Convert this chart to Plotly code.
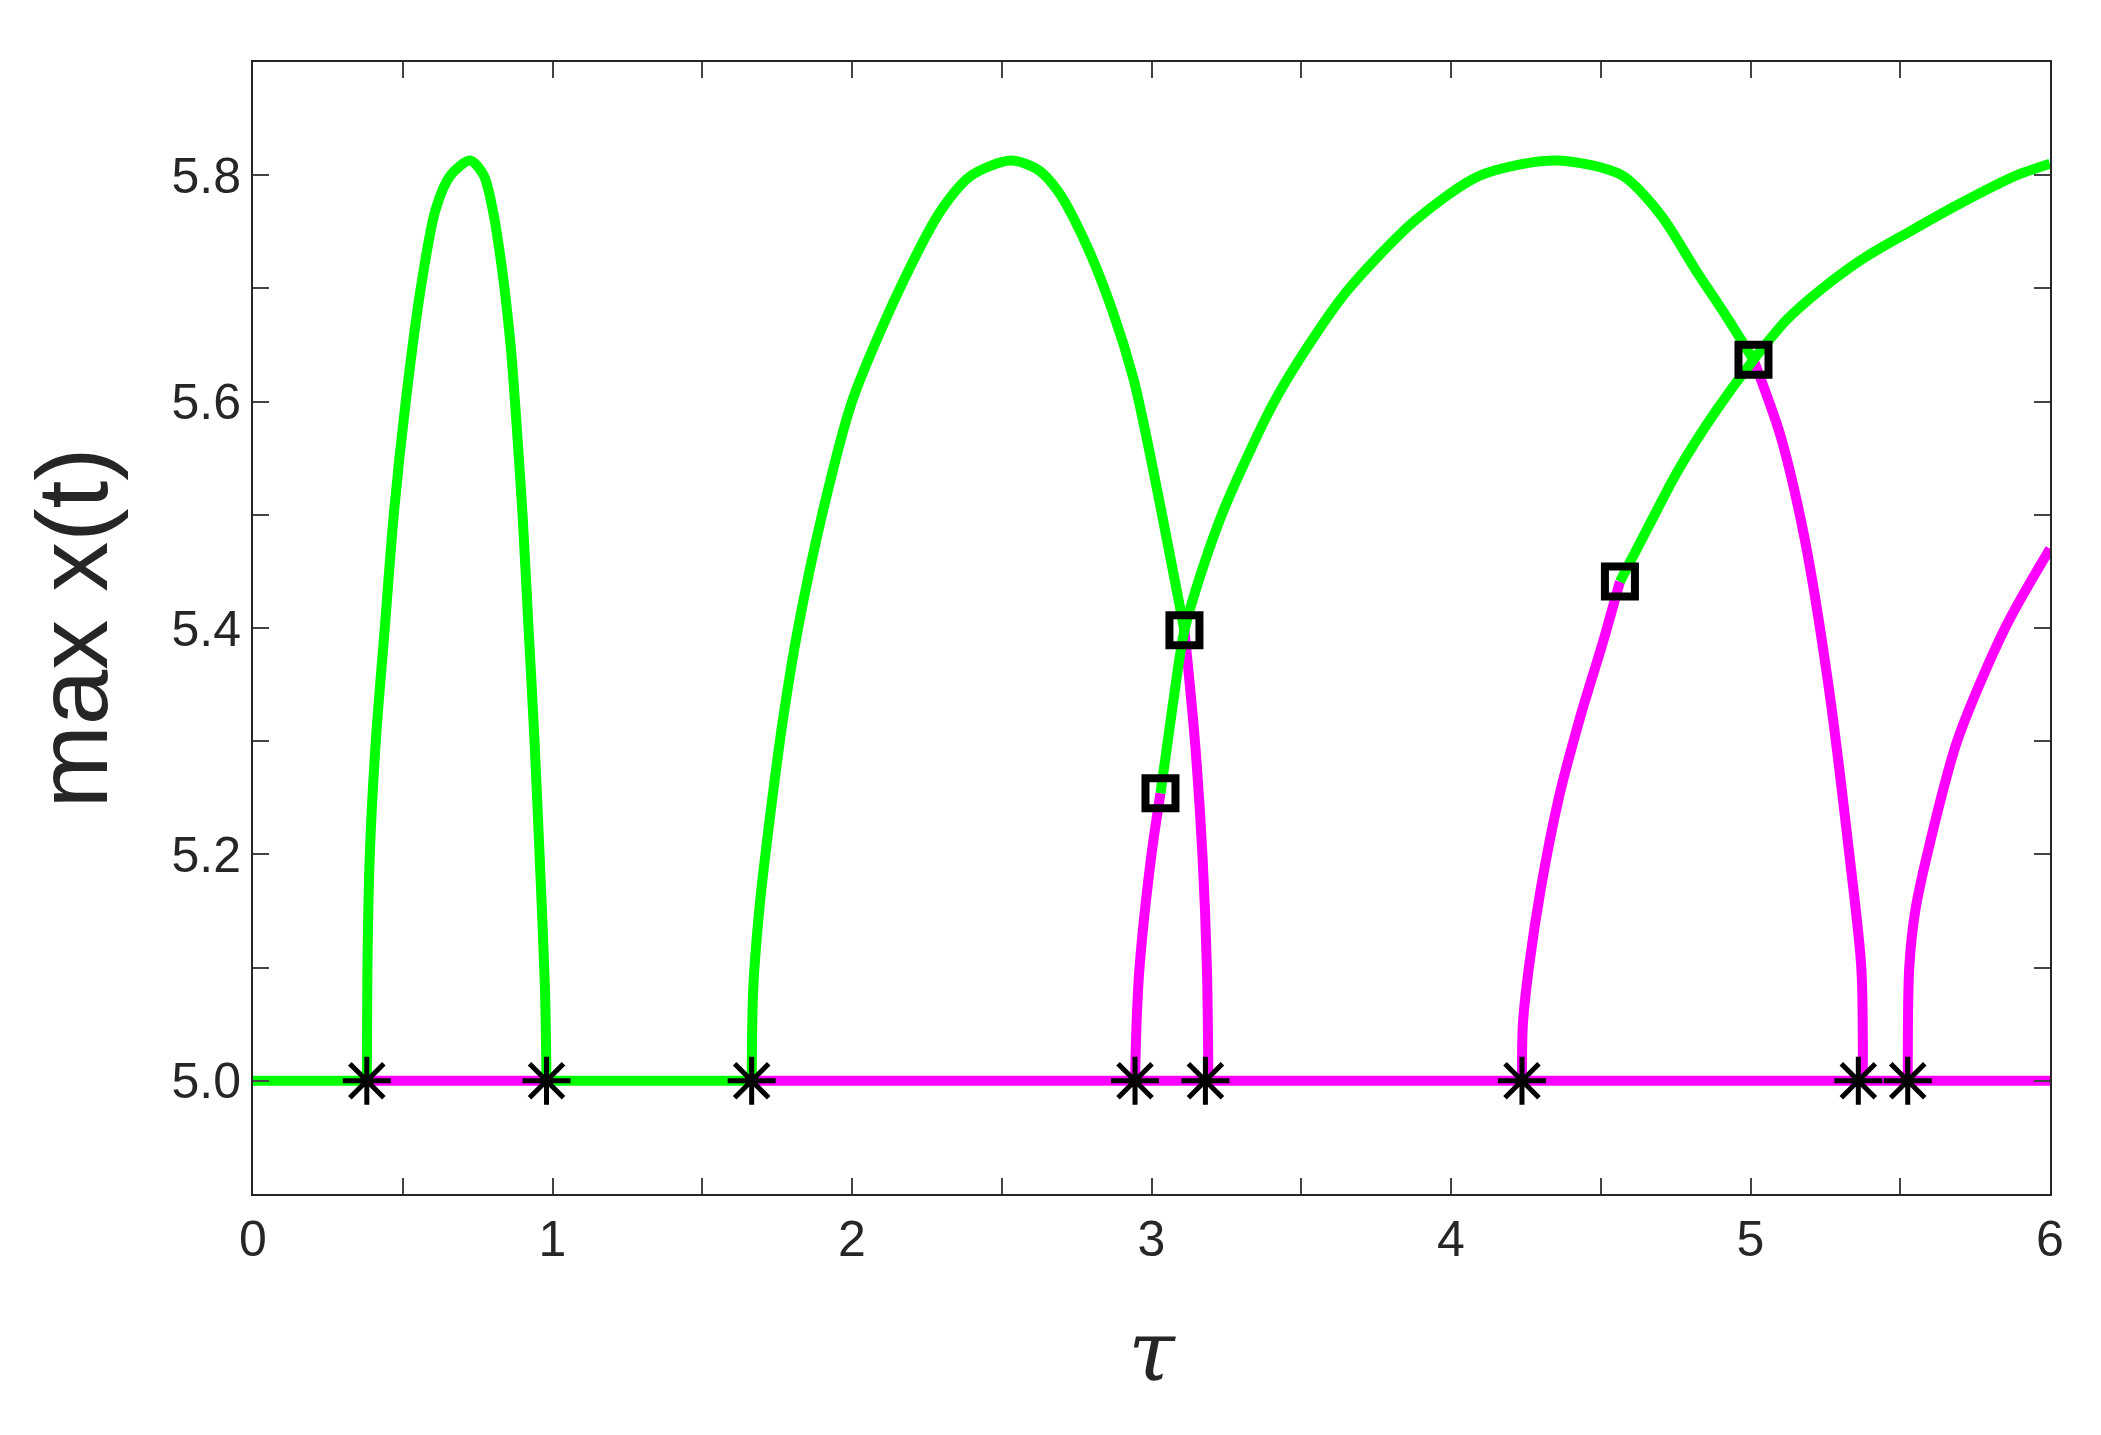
import plotly.graph_objects as go

GREEN = "#00ff00"; MAGENTA = "#ff00ff"

base_green1_t = [0, 0.38]; base_green1_y = [5.0, 5.0]
base_mag1_t = [0.38, 0.98]; base_mag1_y = [5.0, 5.0]
base_green2_t = [0.98, 1.665]; base_green2_y = [5.0, 5.0]
base_mag2_t = [1.665, 6.0]; base_mag2_y = [5.0, 5.0]

arc1_t = [0.38, 0.382, 0.39, 0.41, 0.44, 0.47, 0.51, 0.56, 0.61, 0.66, 0.725, 0.77, 0.80, 0.83, 0.86, 0.88, 0.90, 0.92, 0.94, 0.96, 0.975, 0.98]
arc1_y = [5.0, 5.1, 5.2, 5.3, 5.4, 5.5, 5.6, 5.7, 5.77, 5.80, 5.813, 5.80, 5.77, 5.72, 5.65, 5.58, 5.5, 5.4, 5.3, 5.18, 5.08, 5.0]

arc2g_t = [1.665, 1.67, 1.69, 1.72, 1.77, 1.82, 1.90, 2.0, 2.16, 2.30, 2.40, 2.53, 2.62, 2.69, 2.78, 2.87, 2.94, 2.99, 3.05, 3.11]
arc2g_y = [5.0, 5.08, 5.15, 5.22, 5.32, 5.4, 5.5, 5.6, 5.7, 5.77, 5.80, 5.813, 5.805, 5.785, 5.74, 5.68, 5.62, 5.56, 5.48, 5.398]
arc2m_t = [3.11, 3.145, 3.17, 3.185, 3.19]
arc2m_y = [5.398, 5.3, 5.2, 5.1, 5.0]

arc3m_t = [2.945, 2.95, 2.96, 3.0, 3.03]
arc3m_y = [5.0, 5.05, 5.1, 5.2, 5.254]
arc3g_t = [3.03, 3.07, 3.11, 3.18, 3.25, 3.41, 3.55, 3.66, 3.88, 4.10, 4.35, 4.57, 4.70, 4.82, 4.92, 5.01]
arc3g_y = [5.254, 5.33, 5.398, 5.46, 5.51, 5.6, 5.66, 5.70, 5.76, 5.80, 5.813, 5.80, 5.765, 5.715, 5.675, 5.637]
arc3m2_t = [5.01, 5.10, 5.18, 5.26, 5.33, 5.37, 5.375]
arc3m2_y = [5.637, 5.57, 5.48, 5.35, 5.2, 5.1, 5.0]

arc4m_t = [4.237, 4.24, 4.26, 4.30, 4.36, 4.43, 4.51, 4.564]
arc4m_y = [5.0, 5.05, 5.1, 5.17, 5.25, 5.32, 5.39, 5.441]
arc4g_t = [4.564, 4.66, 4.76, 4.88, 5.01, 5.12, 5.24, 5.38, 5.53, 5.70, 5.89, 6.0]
arc4g_y = [5.441, 5.49, 5.54, 5.59, 5.637, 5.672, 5.70, 5.727, 5.75, 5.775, 5.80, 5.81]

arc5m_t = [5.525, 5.53, 5.55, 5.59, 5.69, 5.85, 6.0]
arc5m_y = [5.0, 5.1, 5.15, 5.2, 5.3, 5.4, 5.47]

star_t = [0.38, 0.98, 1.665, 2.945, 3.18, 4.237, 5.36, 5.525]
star_y = [5.0] * 8
sq_t = [3.03, 3.11, 4.564, 5.01]
sq_y = [5.254, 5.398, 5.441, 5.637]

fig = go.Figure()
segs = [(base_green1_t, base_green1_y, GREEN), (base_mag1_t, base_mag1_y, MAGENTA),
        (base_green2_t, base_green2_y, GREEN), (base_mag2_t, base_mag2_y, MAGENTA),
        (arc1_t, arc1_y, GREEN), (arc2g_t, arc2g_y, GREEN), (arc2m_t, arc2m_y, MAGENTA),
        (arc3m_t, arc3m_y, MAGENTA), (arc3g_t, arc3g_y, GREEN), (arc3m2_t, arc3m2_y, MAGENTA),
        (arc4m_t, arc4m_y, MAGENTA), (arc4g_t, arc4g_y, GREEN), (arc5m_t, arc5m_y, MAGENTA)]
for t, y, c in segs:
    fig.add_trace(go.Scatter(x=t, y=y, mode="lines",
                             line=dict(color=c, width=10, shape="spline", smoothing=0.8),
                             showlegend=False, hoverinfo="skip"))
fig.add_trace(go.Scatter(x=star_t, y=star_y, mode="markers", showlegend=False,
                         marker=dict(symbol="asterisk-open", size=40, color="black",
                                     line=dict(color="black", width=5))))
fig.add_trace(go.Scatter(x=sq_t, y=sq_y, mode="markers", showlegend=False,
                         marker=dict(symbol="square-open", size=30, color="black",
                                     line=dict(color="black", width=8))))

xt = [i * 0.5 for i in range(13)]
yt = [round(4.9 + 0.1 * i, 1) for i in range(11)]
fig.update_layout(
    width=2101, height=1435, plot_bgcolor="white", paper_bgcolor="white",
    margin=dict(l=245, r=59, t=54, b=249),
    font=dict(family="Liberation Sans, Arial", color="#262626"),
    xaxis=dict(range=[0, 6], tickvals=xt, ticktext=[str(int(v)) if v == int(v) else "" for v in xt],
               ticks="inside", ticklen=16, tickwidth=2, mirror="ticks", showline=True, linecolor="#262626",
               linewidth=2, showgrid=False, zeroline=False, tickfont=dict(size=50),
               title=dict(text="<i>τ</i>", font=dict(size=84, family="DejaVu Serif"), standoff=55)),
    yaxis=dict(range=[4.9, 5.9], tickvals=yt,
               ticktext=[("%.1f" % v) if (v in (5.0, 5.2, 5.4, 5.6, 5.8)) else "" for v in yt],
               ticks="inside", ticklen=16, tickwidth=2, mirror="ticks", showline=True, linecolor="#262626",
               linewidth=2, showgrid=False, zeroline=False, tickfont=dict(size=50),
               title=dict(text="max x(t)", font=dict(size=100), standoff=30)),
)
fig.write_html("out.html")
